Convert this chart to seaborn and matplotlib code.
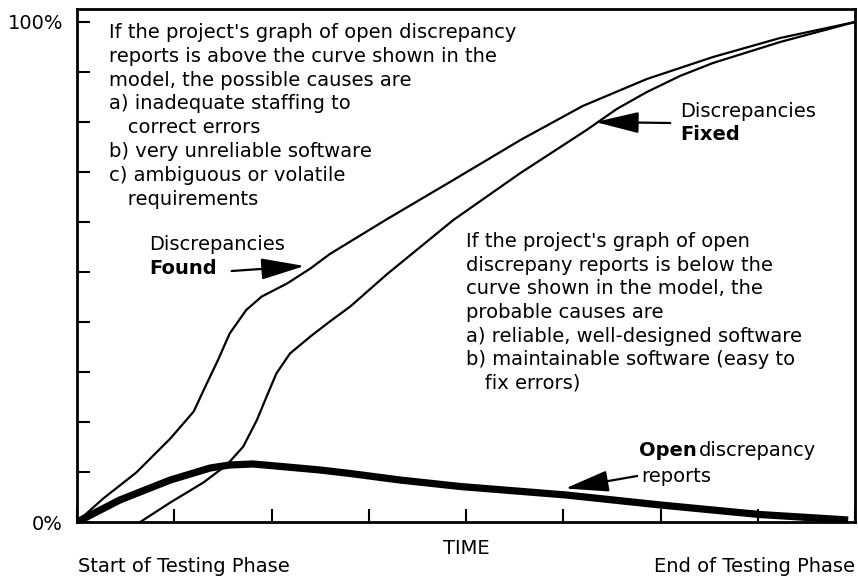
import matplotlib
matplotlib.use("Agg")
import matplotlib.pyplot as plt
import seaborn as sns

# points: time in eighths of the test phase, percent
found_x = [0.0, 0.27, 0.61, 0.96, 1.20, 1.32, 1.45, 1.57, 1.74, 1.90, 2.16, 2.40, 2.60,
           3.19, 3.87, 4.56, 5.20, 5.86, 6.54, 7.23, 8.0]
found_y = [0.0, 4.7, 9.9, 16.7, 22.1, 27.1, 32.4, 37.7, 42.4, 45.1, 47.7, 50.7, 53.6,
           60.6, 68.4, 76.4, 83.2, 88.6, 93.0, 96.8, 100.0]

fixed_x = [0.65, 0.96, 1.30, 1.54, 1.71, 1.85, 1.95, 2.05, 2.19, 2.40, 2.60, 2.81,
           3.19, 3.87, 4.56, 5.24, 5.55, 5.86, 6.20, 6.54, 7.23, 8.0]
fixed_y = [0.0, 3.9, 7.9, 11.4, 15.1, 20.4, 25.1, 29.7, 33.7, 37.1, 40.1, 43.1,
           49.6, 60.4, 69.8, 78.4, 82.6, 86.0, 89.2, 91.8, 96.0, 100.0]

open_x = [0.0, 0.44, 0.96, 1.37, 1.57, 1.81, 2.16, 2.50, 2.81, 3.32, 3.94,
          5.03, 6.0, 7.02, 7.93]
open_y = [0.0, 4.4, 8.4, 10.8, 11.4, 11.6, 11.0, 10.4, 9.7, 8.4, 7.1,
          5.4, 3.4, 1.5, 0.4]

y_ticks = list(range(0, 101, 10))
y_labels = ["0%"] + [""] * 9 + ["100%"]
x_ticks = list(range(0, 9))

above_note = ("If the project's graph of open discrepancy\n"
              "reports is above the curve shown in the\n"
              "model, the possible causes are\n"
              "a) inadequate staffing to\n"
              "   correct errors\n"
              "b) very unreliable software\n"
              "c) ambiguous or volatile\n"
              "   requirements")
below_note = ("If the project's graph of open\n"
              "discrepany reports is below the\n"
              "curve shown in the model, the\n"
              "probable causes are\n"
              "a) reliable, well-designed software\n"
              "b) maintainable software (easy to\n"
              "   fix errors)")

sns.set_style("ticks")
plt.rcParams["font.family"] = ["DejaVu Sans"]
plt.rcParams.update({"text.color": "black", "axes.labelcolor": "black",
                     "xtick.color": "black", "ytick.color": "black"})
FS = 14

fig = plt.figure(figsize=(8.58, 5.77), dpi=100)
ax = fig.add_axes([77 / 858, 1 - 522 / 577, 778 / 858, 513 / 577])

sns.lineplot(x=found_x, y=found_y, ax=ax, color="black", lw=1.6, estimator=None)
sns.lineplot(x=fixed_x, y=fixed_y, ax=ax, color="black", lw=1.6, estimator=None)
sns.lineplot(x=open_x, y=open_y, ax=ax, color="black", lw=5.2, estimator=None,
             solid_capstyle="butt")

ax.set_xlim(0, 8)
ax.set_ylim(0, 102.6)
ax.set_xticks(x_ticks)
ax.set_yticks(y_ticks)
ax.set_yticklabels(y_labels, fontsize=FS)
ax.tick_params(axis="both", direction="in", length=9.5, width=1.5, color="black")
ax.tick_params(axis="y", pad=10)
ax.tick_params(axis="x", labelbottom=False)
for s in ax.spines.values():
    s.set_linewidth(2)
    s.set_color("black")
ax.set_xlabel("TIME", fontsize=FS, labelpad=12)
ax.set_ylabel("")

ax.text(0.33, 99.8, above_note, fontsize=FS, va="top", ha="left", linespacing=1.32)
ax.text(4.0, 58.0, below_note, fontsize=FS, va="top", ha="left", linespacing=1.31)

arrow = dict(arrowstyle="-|>,head_length=1.35,head_width=0.33", color="black",
             lw=1.6, shrinkA=0, shrinkB=0, mutation_scale=20)

ax.text(0.74, 54.4, "Discrepancies", fontsize=FS, va="baseline")
ax.text(0.74, 49.6, "Found", fontsize=FS, va="baseline", fontweight="bold")
ax.annotate("", xy=(2.34, 51.2), xytext=(1.59, 50.2), arrowprops=arrow)

ax.text(6.2, 81.0, "Discrepancies", fontsize=FS, va="baseline")
ax.text(6.2, 76.4, "Fixed", fontsize=FS, va="baseline", fontweight="bold")
ax.annotate("", xy=(5.33, 80.0), xytext=(6.10, 79.8), arrowprops=arrow)

t_open = ax.text(5.78, 13.2, "Open", fontsize=FS, va="baseline", fontweight="bold")
ax.annotate("discrepancy", xy=(1, 0), xycoords=t_open, xytext=(1.5, 0),
            textcoords="offset points", fontsize=FS, va="bottom")
ax.text(5.80, 8.0, "reports", fontsize=FS, va="baseline")
ax.annotate("", xy=(5.02, 6.7), xytext=(5.76, 9.2), arrowprops=arrow)

fig.text(78 / 858, 1 - 566 / 577, "Start of Testing Phase", fontsize=FS, va="center", ha="left")
fig.text(855 / 858, 1 - 566 / 577, "End of Testing Phase", fontsize=FS, va="center", ha="right")

fig.savefig("out.png", dpi=100, facecolor="white")
